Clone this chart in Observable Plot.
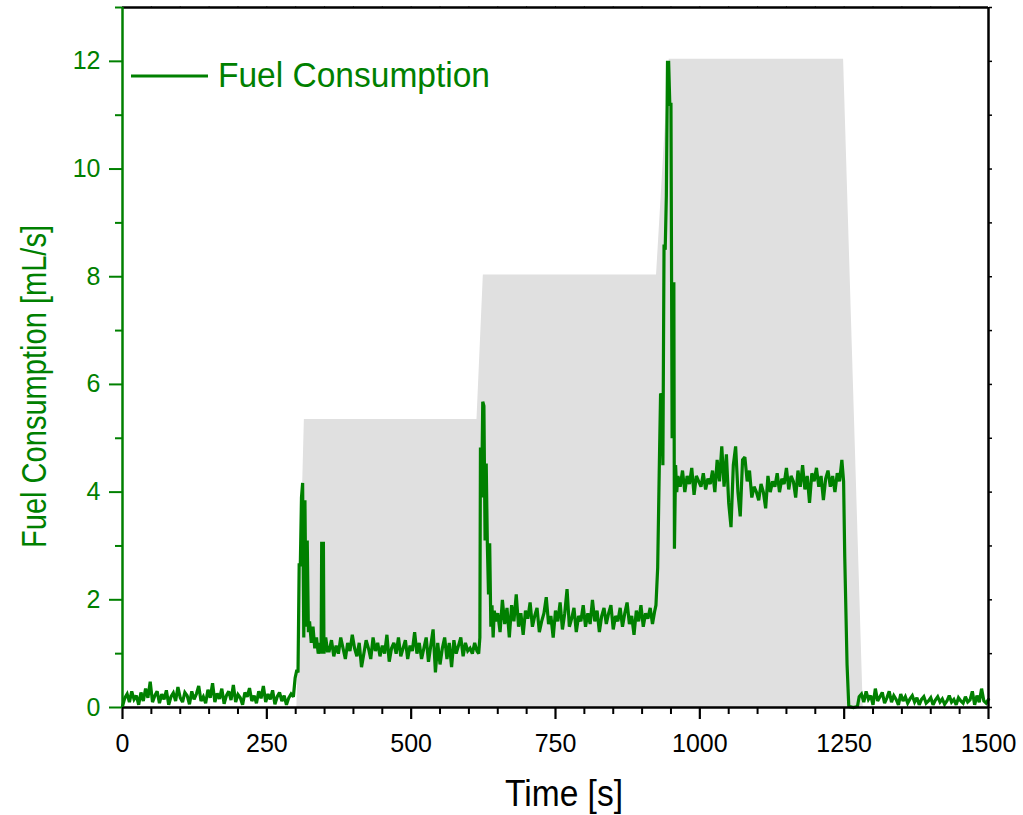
<!DOCTYPE html>
<html>
<head>
<meta charset="utf-8">
<script src="https://cdn.jsdelivr.net/npm/d3@7"></script>
<script src="https://cdn.jsdelivr.net/npm/@observablehq/plot@0.6"></script>
<style>
  html, body { margin: 0; padding: 0; background: #fff; }
  #wrap { position: relative; width: 1023px; height: 815px; }
  #overlay { position: absolute; left: 0; top: 0; pointer-events: none; }
  svg { font-family: "Liberation Sans", Arial, sans-serif; }
</style>
</head>
<body>
<div id="wrap"></div>
<script>
// ---- Data ----
// Idle before load: t = 0..292 s, every 4 s
const idle1 = [0.02,0.18,0.25,0.10,0.30,0.15,0.22,0.05,0.28,0.12,
  0.35,0.18,0.48,0.10,0.22,0.30,0.08,0.25,0.15,0.32,
  0.05,0.20,0.27,0.12,0.38,0.18,0.10,0.28,0.22,0.06,
  0.30,0.15,0.25,0.40,0.12,0.20,0.08,0.33,0.18,0.45,
  0.10,0.26,0.16,0.35,0.07,0.22,0.30,0.14,0.42,0.10,
  0.24,0.18,0.05,0.28,0.20,0.36,0.12,0.22,0.08,0.30,
  0.17,0.40,0.10,0.25,0.15,0.32,0.06,0.20,0.28,0.12,
  0.22,0.05,0.18,0.25];
// First step transient
const rise1Time = [296,299,302,304,306,308,310,312,314,316,318,320,322,324,327,330,333,336,339,342,344,345,348,349,352,355];
const rise1Fuel = [0.2,0.55,0.7,0.65,2.65,2.65,3.9,4.17,1.3,3.85,1.5,3.1,1.4,1.6,1.2,1.5,1.1,1.3,1.0,1.2,1.0,3.05,3.05,1.0,1.3,1.05];
// Stage 1: t = 358..614 s, every 4 s
const stage1 = [1.05,1.25,0.95,1.15,1.0,1.3,1.1,0.9,1.2,1.05,
  1.35,1.1,0.95,1.2,0.75,1.0,1.25,1.1,0.9,1.3,
  1.05,1.2,0.95,1.15,1.0,1.35,0.85,1.1,1.2,1.0,
  1.3,0.95,1.1,1.25,0.9,1.15,1.05,1.4,1.0,1.2,
  0.9,1.1,1.3,0.85,1.15,1.45,0.65,1.2,0.8,1.1,
  1.3,0.9,1.2,0.75,1.25,1.0,1.15,1.3,0.95,1.2,
  1.05,1.1,1.0,1.2,1.05];
// Second step transient
const rise2Time = [617,619,620,622,624,626,628,630,632,634,636,638,640,642,644,646];
const rise2Fuel = [1.0,1.3,4.83,3.9,5.68,5.6,3.1,4.53,3.0,2.1,3.05,1.5,1.9,1.3,1.8,1.6];
// Stage 2: t = 650..922 s, every 4 s
const stage2 = [1.75,1.4,2.0,1.55,1.85,1.3,1.9,1.6,2.1,1.5,
  1.75,1.35,1.8,1.65,1.95,1.5,1.7,1.85,1.4,1.6,
  1.75,2.05,1.55,1.7,1.3,1.8,1.6,1.95,1.45,1.75,
  2.2,1.5,1.65,1.85,1.4,1.7,1.6,1.9,1.5,1.75,
  1.55,2.0,1.6,1.8,1.4,1.7,1.85,1.55,1.75,1.9,
  1.45,1.7,1.6,1.85,1.5,1.75,1.95,1.55,1.7,1.35,
  1.8,1.6,1.9,1.5,1.75,1.65,1.85,1.55,1.8];
// Third step transient
const rise3Time = [924,927,930,932,934,936,938,940,942,944,946,948,950,952,953,955,956,958,960];
const rise3Fuel = [1.9,2.6,4.6,5.83,5.8,4.5,8.6,8.5,9.5,11.98,11.98,11.2,11.2,5.0,7.87,7.87,2.95,4.5,4.0];
// Stage 3: t = 962..1246 s, every 4 s
const stage3 = [4.3,4.1,4.4,4.0,4.3,4.15,4.45,3.95,4.3,4.2,
  4.1,4.35,4.05,4.25,4.15,4.4,4.0,4.6,4.2,4.85,
  4.1,4.7,3.8,3.35,4.5,4.85,4.0,3.55,4.6,4.65,
  4.2,4.4,3.9,4.1,4.0,3.85,4.15,4.0,3.7,4.3,
  4.0,4.2,4.1,4.35,4.0,4.25,4.15,4.45,4.05,4.3,
  4.2,3.9,4.4,4.1,4.5,4.05,4.3,3.8,4.35,4.2,
  4.45,4.1,4.3,3.85,4.25,4.4,4.1,4.3,4.0,4.35,
  4.2,4.6];
// Unloading
const dropTime = [1249,1251,1255,1258,1266,1273,1276];
const dropFuel = [4.2,2.8,0.8,0.02,0.0,0.02,0.2];
// Idle after load: t = 1280..1500 s, every 4 s
const idle2 = [0.25,0.1,0.3,0.15,0.22,0.05,0.35,0.12,0.2,0.28,
  0.08,0.18,0.3,0.1,0.22,0.15,0.05,0.25,0.12,0.2,
  0.08,0.16,0.22,0.1,0.18,0.05,0.15,0.2,0.08,0.12,
  0.18,0.05,0.14,0.2,0.1,0.16,0.06,0.12,0.22,0.1,
  0.15,0.05,0.18,0.12,0.08,0.2,0.1,0.14,0.3,0.05,
  0.22,0.1,0.35,0.12,0.08,0.15];
// Grey load profile (background)
const loadTime  = [302,315,614,625,925,947,1249,1283];
const loadLevel = [0,5.35,5.35,8.03,8.03,12.04,12.04,0];
// Ticks
const xMajorTicks = [0,250,500,750,1000,1250,1500];
const xMinorTicks = d3.range(0,1501,50).filter(d => d % 250 !== 0);
const yMajorTicks = [0,2,4,6,8,10,12];
const yMinorTicks = [1,3,5,7,9,11,13];
const yRightTicks = d3.range(0,14,1);
const xTopTicks = d3.range(50,1500,50);

// ---- Build tables ----
const regular = (start, step, vals) => vals.map((v, i) => ({t: start + i*step, v}));
const explicit = (ts, vs) => ts.map((t, i) => ({t, v: vs[i]}));
const fuel = [].concat(
  regular(0, 4, idle1),
  explicit(rise1Time, rise1Fuel),
  regular(358, 4, stage1),
  explicit(rise2Time, rise2Fuel),
  regular(650, 4, stage2),
  explicit(rise3Time, rise3Fuel),
  regular(962, 4, stage3),
  explicit(dropTime, dropFuel),
  regular(1280, 4, idle2)
);
const load = explicit(loadTime, loadLevel);

const GREEN = "#008000";
const blank = () => "";

const chart = Plot.plot({
  width: 1023,
  height: 815,
  marginLeft: 122,
  marginRight: 35,
  marginTop: 7,
  marginBottom: 108,
  style: {fontFamily: "'Liberation Sans', Arial, sans-serif", background: "#fff", overflow: "visible"},
  x: {domain: [0, 1500], label: null},
  y: {domain: [0, 13], label: null},
  marks: [
    Plot.areaY(load, {x: "t", y: "v", fill: "#e0e0e0"}),
    Plot.line(fuel, {x: "t", y: "v", stroke: GREEN, strokeWidth: 3.2, strokeLinejoin: "miter", strokeMiterlimit: 2.5}),
    // bottom axis
    Plot.axisX({ticks: xMinorTicks, tickSize: 7, tickFormat: blank, label: null, stroke: "#000", strokeWidth: 2}),
    Plot.axisX({ticks: xMajorTicks, tickSize: 12, tickPadding: 15, tickFormat: d => String(d), label: null,
      fontSize: 25, stroke: "#000", fill: "#000", strokeWidth: 2.2}),
    // top axis (tiny ticks)
    Plot.axisX({anchor: "top", ticks: xTopTicks, tickSize: 2, tickFormat: blank, label: null, stroke: "#555", strokeWidth: 1}),
    // left axis (green)
    Plot.axisY({ticks: yMinorTicks, tickSize: 7, tickFormat: blank, label: null, stroke: GREEN, strokeWidth: 2}),
    Plot.axisY({ticks: yMajorTicks, tickSize: 13, tickPadding: 9, tickFormat: d => String(d), label: null,
      fontSize: 25, stroke: GREEN, fill: GREEN, strokeWidth: 2}),
    // right axis tiny ticks
    Plot.axisY({anchor: "right", ticks: yRightTicks, tickSize: 3, tickFormat: blank, label: null, stroke: "#000", strokeWidth: 1.5}),
    // frame
    Plot.ruleY([13], {stroke: "#000", strokeWidth: 2.5}),
    Plot.ruleX([1500], {stroke: "#000", strokeWidth: 2.5}),
    Plot.ruleY([0], {stroke: "#000", strokeWidth: 2.5}),
    Plot.ruleX([0], {stroke: GREEN, strokeWidth: 2.5})
  ]
});

const wrap = document.getElementById("wrap");
wrap.appendChild(chart);

// ---- Overlay: titles and legend ----
const NS = "http://www.w3.org/2000/svg";
const ov = document.createElementNS(NS, "svg");
ov.setAttribute("id", "overlay");
ov.setAttribute("width", 1023);
ov.setAttribute("height", 815);
function addText(str, attrs) {
  const t = document.createElementNS(NS, "text");
  for (const k in attrs) t.setAttribute(k, attrs[k]);
  t.textContent = str;
  ov.appendChild(t);
  return t;
}
// legend
const lg = document.createElementNS(NS, "line");
lg.setAttribute("x1", 131); lg.setAttribute("x2", 208);
lg.setAttribute("y1", 76); lg.setAttribute("y2", 76);
lg.setAttribute("stroke", GREEN); lg.setAttribute("stroke-width", 3);
ov.appendChild(lg);
addText("Fuel Consumption", {x: 218, y: 87, "font-size": 35, fill: GREEN,
  textLength: 272, lengthAdjust: "spacingAndGlyphs"});
// x title
addText("Time [s]", {x: 505, y: 806, "font-size": 36, fill: "#000",
  textLength: 118, lengthAdjust: "spacingAndGlyphs"});
// y title
addText("Fuel Consumption [mL/s]", {x: 0, y: 0, transform: "translate(46,548) rotate(-90)",
  "font-size": 35, fill: GREEN, textLength: 323, lengthAdjust: "spacingAndGlyphs"});
wrap.appendChild(ov);
</script>
</body>
</html>
